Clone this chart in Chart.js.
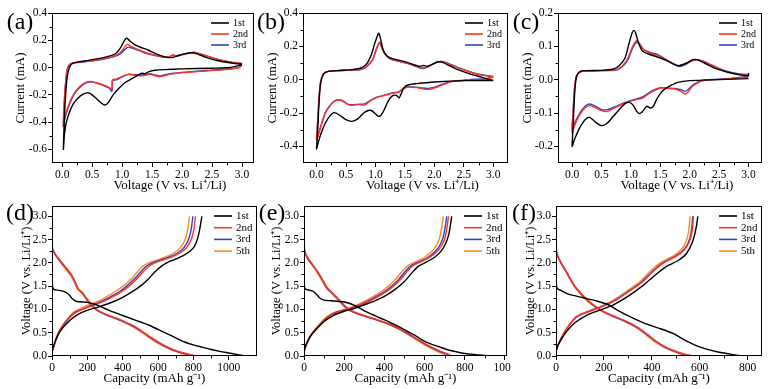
<!DOCTYPE html>
<html>
<head>
<meta charset="utf-8">
<script src="https://cdn.jsdelivr.net/npm/chart.js@4.4.1/dist/chart.umd.min.js"></script>
<style>
  html, body { margin: 0; padding: 0; background: #fff; }
  #fig { position: relative; width: 771px; height: 389px; overflow: hidden; }
  #fig canvas { position: absolute; }
</style>
</head>
<body>
<div id="fig">
  <canvas id="pa"></canvas>
  <canvas id="pb"></canvas>
  <canvas id="pc"></canvas>
  <canvas id="pd"></canvas>
  <canvas id="pe"></canvas>
  <canvas id="pf"></canvas>
</div>
<script>
// ---- axis ticks ----
const CV_X_TICKS = [0, 0.5, 1, 1.5, 2, 2.5, 3];
const A_Y_TICKS = [-0.6, -0.4, -0.2, 0, 0.2, 0.4];
const B_Y_TICKS = [-0.4, -0.2, 0, 0.2, 0.4];
const C_Y_TICKS = [-0.2, -0.1, 0, 0.1, 0.2];
const GCD_Y_TICKS = [0, 0.5, 1, 1.5, 2, 2.5, 3];
const D_X_TICKS = [0, 200, 400, 600, 800, 1000];
const E_X_TICKS = [0, 200, 400, 600, 800, 1000];
const F_X_TICKS = [0, 200, 400, 600, 800];

const CV_LABELS = ['1st', '2nd', '3rd'];
const GCD_LABELS = ['1st', '2nd', '3rd', '5th'];

// ---- (a) CV curves: [voltage, current] ----
const a1st = [[3.0,0.02],[2.8,0.0],[2.5,-0.005],[2.0,-0.01],[1.7,-0.015],[1.55,-0.02],[1.45,-0.03],[1.38,-0.045],[1.33,-0.042],[1.25,-0.06],[1.15,-0.085],[1.05,-0.11],[0.95,-0.15],[0.85,-0.2],[0.78,-0.25],[0.72,-0.275],[0.65,-0.26],[0.55,-0.22],[0.45,-0.187],[0.35,-0.195],[0.25,-0.23],[0.18,-0.27],[0.12,-0.33],[0.07,-0.4],[0.04,-0.48],[0.02,-0.6],[0.03,-0.45],[0.05,-0.25],[0.08,-0.08],[0.12,0.0],[0.17,0.03],[0.25,0.04],[0.4,0.05],[0.6,0.065],[0.8,0.085],[0.9,0.105],[0.98,0.15],[1.04,0.2],[1.08,0.215],[1.13,0.195],[1.2,0.17],[1.3,0.15],[1.45,0.125],[1.6,0.095],[1.75,0.075],[1.85,0.075],[1.95,0.09],[2.05,0.1],[2.15,0.108],[2.25,0.1],[2.4,0.075],[2.6,0.05],[2.8,0.035],[3.0,0.025]];
const a2nd = [[3.0,0.02],[2.95,0.0],[2.7,-0.015],[2.4,-0.025],[2.1,-0.035],[1.85,-0.045],[1.7,-0.06],[1.62,-0.068],[1.55,-0.06],[1.47,-0.05],[1.4,-0.055],[1.3,-0.06],[1.2,-0.055],[1.1,-0.05],[1.0,-0.065],[0.9,-0.085],[0.84,-0.09],[0.83,-0.16],[0.78,-0.145],[0.7,-0.13],[0.6,-0.115],[0.5,-0.103],[0.42,-0.105],[0.35,-0.12],[0.27,-0.15],[0.2,-0.19],[0.13,-0.25],[0.08,-0.31],[0.04,-0.37],[0.02,-0.42],[0.03,-0.3],[0.05,-0.15],[0.08,-0.02],[0.12,0.02],[0.18,0.033],[0.3,0.04],[0.5,0.05],[0.7,0.065],[0.85,0.08],[0.97,0.11],[1.05,0.155],[1.09,0.17],[1.15,0.155],[1.25,0.135],[1.4,0.11],[1.55,0.09],[1.7,0.078],[1.8,0.082],[1.85,0.095],[1.9,0.085],[2.0,0.095],[2.1,0.105],[2.2,0.113],[2.3,0.1],[2.45,0.08],[2.6,0.06],[2.75,0.045],[2.9,0.035],[3.0,0.03]];
const a3rd = [[3.0,0.03],[2.95,0.0],[2.7,-0.013],[2.4,-0.022],[2.1,-0.032],[1.85,-0.042],[1.7,-0.055],[1.62,-0.062],[1.55,-0.055],[1.47,-0.045],[1.4,-0.05],[1.3,-0.055],[1.2,-0.052],[1.1,-0.05],[1.0,-0.068],[0.9,-0.09],[0.84,-0.095],[0.83,-0.175],[0.78,-0.15],[0.7,-0.135],[0.6,-0.118],[0.5,-0.105],[0.42,-0.108],[0.35,-0.125],[0.27,-0.155],[0.2,-0.195],[0.13,-0.26],[0.08,-0.32],[0.04,-0.38],[0.02,-0.43],[0.03,-0.3],[0.05,-0.15],[0.08,-0.02],[0.12,0.02],[0.18,0.032],[0.3,0.04],[0.5,0.05],[0.7,0.063],[0.85,0.078],[0.97,0.1],[1.05,0.135],[1.1,0.15],[1.15,0.145],[1.25,0.13],[1.4,0.105],[1.55,0.088],[1.7,0.075],[1.8,0.08],[1.85,0.09],[1.9,0.082],[2.0,0.095],[2.1,0.105],[2.2,0.11],[2.3,0.1],[2.45,0.08],[2.6,0.06],[2.75,0.045],[2.9,0.03],[3.0,0.03]];

// ---- (b) CV curves ----
const b1st = [[3.0,-0.005],[2.5,-0.006],[2.0,-0.014],[1.7,-0.024],[1.55,-0.032],[1.48,-0.05],[1.43,-0.09],[1.4,-0.11],[1.36,-0.095],[1.3,-0.095],[1.25,-0.11],[1.2,-0.14],[1.15,-0.18],[1.1,-0.21],[1.05,-0.22],[1.0,-0.205],[0.93,-0.185],[0.88,-0.185],[0.8,-0.2],[0.7,-0.235],[0.6,-0.25],[0.5,-0.24],[0.4,-0.215],[0.3,-0.198],[0.22,-0.22],[0.15,-0.26],[0.1,-0.3],[0.05,-0.35],[0.02,-0.39],[0.0,-0.415],[0.02,-0.3],[0.04,-0.15],[0.07,-0.02],[0.12,0.035],[0.2,0.05],[0.4,0.055],[0.6,0.06],[0.75,0.07],[0.85,0.095],[0.93,0.15],[0.99,0.22],[1.04,0.27],[1.06,0.278],[1.09,0.24],[1.13,0.18],[1.2,0.14],[1.3,0.125],[1.5,0.108],[1.65,0.09],[1.75,0.08],[1.82,0.085],[1.88,0.08],[1.95,0.09],[2.05,0.106],[2.12,0.105],[2.25,0.085],[2.4,0.06],[2.6,0.035],[2.8,0.015],[3.0,-0.005]];
const b2nd = [[3.0,0.015],[2.9,0.005],[2.6,-0.002],[2.3,-0.012],[2.15,-0.03],[2.0,-0.05],[1.9,-0.058],[1.8,-0.055],[1.7,-0.048],[1.55,-0.045],[1.45,-0.06],[1.4,-0.075],[1.3,-0.08],[1.15,-0.095],[1.0,-0.11],[0.9,-0.13],[0.82,-0.152],[0.7,-0.15],[0.55,-0.152],[0.45,-0.13],[0.38,-0.122],[0.3,-0.13],[0.22,-0.16],[0.15,-0.2],[0.1,-0.25],[0.05,-0.31],[0.02,-0.345],[0.0,-0.36],[0.02,-0.25],[0.04,-0.12],[0.07,-0.01],[0.12,0.035],[0.2,0.05],[0.4,0.055],[0.6,0.058],[0.75,0.062],[0.85,0.08],[0.95,0.12],[1.02,0.19],[1.07,0.225],[1.1,0.2],[1.15,0.16],[1.25,0.125],[1.4,0.112],[1.55,0.098],[1.7,0.08],[1.8,0.07],[1.9,0.08],[2.0,0.098],[2.08,0.108],[2.15,0.105],[2.3,0.085],[2.5,0.058],[2.7,0.035],[2.9,0.022],[3.0,0.018]];
const b3rd = [[3.0,0.02],[2.9,0.008],[2.6,0.0],[2.3,-0.01],[2.15,-0.025],[2.0,-0.045],[1.9,-0.052],[1.8,-0.05],[1.7,-0.045],[1.55,-0.043],[1.45,-0.058],[1.4,-0.073],[1.3,-0.078],[1.15,-0.093],[1.0,-0.108],[0.9,-0.128],[0.82,-0.145],[0.7,-0.148],[0.55,-0.15],[0.45,-0.128],[0.38,-0.12],[0.3,-0.128],[0.22,-0.158],[0.15,-0.198],[0.1,-0.248],[0.05,-0.305],[0.02,-0.34],[0.0,-0.355],[0.02,-0.25],[0.04,-0.12],[0.07,-0.01],[0.12,0.035],[0.2,0.05],[0.4,0.055],[0.6,0.057],[0.75,0.06],[0.85,0.078],[0.95,0.118],[1.02,0.185],[1.07,0.22],[1.1,0.2],[1.15,0.16],[1.25,0.125],[1.4,0.11],[1.55,0.096],[1.7,0.078],[1.8,0.066],[1.9,0.078],[2.0,0.098],[2.1,0.11],[2.17,0.106],[2.3,0.088],[2.5,0.06],[2.7,0.037],[2.9,0.024],[3.0,0.02]];

// ---- (c) CV curves ----
const c1st = [[3.0,0.003],[2.5,0.0],[2.0,-0.003],[1.8,-0.008],[1.65,-0.02],[1.55,-0.032],[1.45,-0.055],[1.38,-0.08],[1.33,-0.085],[1.27,-0.08],[1.2,-0.095],[1.15,-0.102],[1.1,-0.095],[1.03,-0.075],[0.97,-0.068],[0.9,-0.072],[0.8,-0.09],[0.7,-0.11],[0.6,-0.13],[0.5,-0.138],[0.4,-0.128],[0.3,-0.113],[0.22,-0.12],[0.15,-0.138],[0.1,-0.155],[0.05,-0.175],[0.02,-0.19],[0.0,-0.2],[0.02,-0.13],[0.04,-0.05],[0.07,0.005],[0.12,0.022],[0.2,0.027],[0.5,0.028],[0.7,0.032],[0.8,0.042],[0.9,0.065],[0.97,0.11],[1.02,0.14],[1.05,0.148],[1.08,0.14],[1.13,0.11],[1.2,0.085],[1.3,0.077],[1.45,0.068],[1.6,0.058],[1.75,0.045],[1.82,0.042],[1.95,0.05],[2.05,0.06],[2.12,0.06],[2.25,0.05],[2.45,0.033],[2.7,0.02],[2.9,0.013],[3.0,0.012],[3.0,0.02]];
const c2nd = [[3.0,0.008],[2.7,0.003],[2.4,0.0],[2.2,-0.004],[2.05,-0.02],[1.97,-0.038],[1.92,-0.043],[1.85,-0.035],[1.75,-0.028],[1.6,-0.026],[1.5,-0.025],[1.4,-0.033],[1.3,-0.043],[1.2,-0.055],[1.05,-0.062],[0.9,-0.07],[0.75,-0.082],[0.6,-0.095],[0.5,-0.093],[0.4,-0.084],[0.3,-0.078],[0.22,-0.085],[0.15,-0.1],[0.1,-0.115],[0.05,-0.135],[0.02,-0.15],[0.0,-0.16],[0.02,-0.09],[0.04,-0.03],[0.07,0.01],[0.12,0.022],[0.2,0.026],[0.5,0.027],[0.75,0.03],[0.85,0.04],[0.95,0.065],[1.03,0.1],[1.1,0.118],[1.15,0.108],[1.22,0.09],[1.35,0.078],[1.5,0.07],[1.65,0.055],[1.8,0.042],[1.9,0.045],[2.0,0.055],[2.1,0.06],[2.2,0.056],[2.35,0.045],[2.6,0.025],[2.85,0.016],[3.0,0.013]];
const c3rd = [[3.0,0.01],[2.7,0.004],[2.4,0.001],[2.2,-0.003],[2.05,-0.016],[1.97,-0.03],[1.92,-0.035],[1.85,-0.03],[1.75,-0.026],[1.6,-0.025],[1.5,-0.024],[1.4,-0.03],[1.3,-0.04],[1.2,-0.052],[1.05,-0.06],[0.9,-0.068],[0.75,-0.08],[0.6,-0.09],[0.5,-0.09],[0.4,-0.08],[0.3,-0.073],[0.22,-0.08],[0.15,-0.095],[0.1,-0.11],[0.05,-0.127],[0.02,-0.14],[0.0,-0.148],[0.02,-0.085],[0.04,-0.03],[0.07,0.01],[0.12,0.022],[0.2,0.026],[0.5,0.027],[0.75,0.029],[0.85,0.038],[0.95,0.06],[1.03,0.095],[1.1,0.113],[1.15,0.105],[1.22,0.09],[1.35,0.08],[1.45,0.076],[1.6,0.06],[1.8,0.04],[1.9,0.043],[2.0,0.053],[2.12,0.06],[2.22,0.056],[2.35,0.046],[2.6,0.027],[2.85,0.017],[3.0,0.015]];

// ---- (d) discharge / charge: [capacity, voltage] ----
const d1stDis = [[0,1.75],[3,1.5],[10,1.43],[40,1.41],[70,1.38],[95,1.32],[115,1.23],[140,1.17],[200,1.15],[250,1.1],[300,1.02],[350,0.94],[400,0.87],[450,0.8],[500,0.73],[550,0.66],[600,0.57],[650,0.48],[700,0.39],[750,0.3],[800,0.24],[850,0.19],[900,0.14],[950,0.1],[1000,0.065],[1050,0.03],[1090,0.0]];
const d2ndDis = [[0,2.55],[3,2.32],[20,2.18],[40,2.08],[72,1.93],[109,1.75],[135,1.56],[150,1.44],[170,1.37],[190,1.27],[213,1.15],[240,1.04],[270,0.96],[310,0.89],[360,0.82],[410,0.74],[460,0.65],[510,0.53],[560,0.4],[610,0.28],[650,0.2],[690,0.13],[730,0.08],[770,0.04],[800,0.015],[818,0.0]];
const d3rdDis = [[0,2.3],[3,2.28],[20,2.17],[40,2.07],[72,1.92],[109,1.74],[135,1.55],[150,1.43],[170,1.36],[190,1.26],[213,1.14],[240,1.03],[270,0.95],[310,0.88],[360,0.81],[410,0.73],[460,0.64],[510,0.52],[560,0.39],[610,0.27],[650,0.19],[690,0.12],[730,0.07],[770,0.035],[795,0.012],[808,0.0]];
const d5thDis = [[0,2.75],[3,2.3],[20,2.16],[40,2.05],[70,1.9],[105,1.73],[130,1.55],[145,1.43],[165,1.36],[185,1.26],[208,1.14],[235,1.03],[265,0.95],[305,0.88],[355,0.81],[405,0.73],[455,0.63],[505,0.51],[555,0.38],[600,0.27],[640,0.19],[680,0.12],[720,0.07],[755,0.03],[780,0.008],[790,0.0]];
const d1stChg = [[0,0.1],[8,0.2],[25,0.38],[50,0.55],[100,0.76],[150,0.9],[200,0.98],[260,1.05],[300,1.1],[350,1.17],[400,1.26],[450,1.37],[500,1.5],[540,1.63],[580,1.8],[620,1.93],[660,2.02],[700,2.08],[740,2.15],[780,2.25],[805,2.35],[822,2.5],[835,2.7],[848,3.0]];
const d2ndChg = [[0,0.08],[6,0.15],[23,0.35],[48,0.56],[88,0.77],[128,0.92],[165,0.99],[198,1.04],[235,1.09],[277,1.15],[318,1.22],[358,1.3],[398,1.39],[436,1.5],[474,1.63],[510,1.78],[540,1.9],[568,1.97],[605,2.03],[643,2.08],[685,2.14],[720,2.2],[750,2.28],[775,2.4],[792,2.55],[804,2.75],[812,3.0]];
const d3rdChg = [[0,0.08],[6,0.15],[22,0.35],[46,0.56],[85,0.77],[124,0.92],[160,0.99],[190,1.04],[225,1.09],[265,1.15],[305,1.22],[345,1.3],[385,1.39],[422,1.5],[460,1.63],[496,1.78],[525,1.9],[553,1.97],[590,2.03],[628,2.08],[670,2.14],[705,2.2],[735,2.28],[760,2.4],[777,2.55],[789,2.75],[797,3.0]];
const d5thChg = [[0,0.08],[6,0.15],[20,0.35],[43,0.56],[81,0.77],[119,0.93],[150,1.0],[175,1.05],[210,1.1],[250,1.16],[290,1.23],[326,1.31],[365,1.4],[401,1.5],[440,1.62],[476,1.77],[505,1.9],[533,1.97],[570,2.03],[608,2.08],[650,2.14],[684,2.2],[715,2.28],[740,2.4],[758,2.55],[770,2.75],[778,3.0]];

// ---- (e) ----
const e1stDis = [[0,1.62],[3,1.48],[10,1.43],[30,1.41],[45,1.39],[63,1.32],[80,1.24],[100,1.2],[150,1.18],[200,1.16],[244,1.1],[280,1.02],[309,0.95],[345,0.88],[381,0.81],[420,0.74],[454,0.67],[490,0.59],[526,0.5],[560,0.42],[589,0.34],[630,0.26],[672,0.2],[710,0.14],[754,0.094],[790,0.06],[828,0.04],[870,0.02],[915,0.008],[955,0.0]];
const e2ndDis = [[0,2.4],[4,2.25],[20,2.1],[45,1.95],[70,1.8],[95,1.62],[115,1.47],[140,1.36],[170,1.23],[200,1.09],[225,1.0],[260,0.93],[300,0.87],[350,0.8],[400,0.73],[450,0.64],[500,0.53],[550,0.4],[600,0.27],[640,0.18],[680,0.1],[710,0.05],[730,0.015],[738,0.0]];
const e3rdDis = [[0,2.3],[4,2.22],[20,2.08],[45,1.94],[70,1.79],[95,1.61],[115,1.46],[140,1.35],[170,1.22],[200,1.08],[225,0.99],[260,0.92],[300,0.86],[350,0.79],[400,0.72],[450,0.63],[500,0.52],[550,0.39],[600,0.26],[640,0.17],[680,0.09],[705,0.045],[722,0.012],[730,0.0]];
const e5thDis = [[0,2.75],[3,2.3],[18,2.08],[42,1.94],[66,1.79],[90,1.61],[110,1.46],[135,1.35],[165,1.22],[195,1.08],[220,0.99],[255,0.92],[295,0.86],[345,0.79],[395,0.72],[445,0.63],[495,0.52],[545,0.39],[592,0.26],[630,0.17],[668,0.09],[692,0.045],[708,0.012],[716,0.0]];
const e1stChg = [[0,0.1],[8,0.22],[28,0.4],[50,0.52],[100,0.74],[150,0.88],[200,0.96],[250,1.02],[300,1.1],[350,1.18],[400,1.28],[450,1.42],[500,1.6],[540,1.8],[570,1.93],[610,2.02],[650,2.12],[680,2.24],[703,2.4],[720,2.6],[730,2.85],[735,3.0]];
const e2ndChg = [[0,0.08],[8,0.2],[27,0.38],[48,0.52],[86,0.7],[128,0.86],[172,0.95],[216,1.0],[270,1.07],[323,1.17],[375,1.29],[426,1.43],[476,1.62],[516,1.83],[546,1.95],[587,2.03],[627,2.12],[657,2.22],[682,2.35],[699,2.5],[711,2.75],[719,3.0]];
const e3rdChg = [[0,0.08],[8,0.2],[26,0.38],[47,0.52],[84,0.7],[125,0.86],[168,0.95],[210,1.0],[262,1.07],[314,1.17],[365,1.29],[416,1.43],[466,1.62],[506,1.83],[536,1.95],[577,2.03],[617,2.12],[647,2.22],[672,2.35],[689,2.5],[702,2.75],[710,3.0]];
const e5thChg = [[0,0.08],[8,0.2],[25,0.38],[45,0.52],[80,0.7],[120,0.86],[160,0.95],[200,1.0],[250,1.07],[300,1.17],[350,1.29],[400,1.43],[450,1.62],[490,1.83],[520,1.95],[560,2.03],[600,2.12],[630,2.22],[655,2.35],[672,2.5],[685,2.75],[693,3.0]];

// ---- (f) ----
const f1stDis = [[0,1.7],[3,1.48],[10,1.43],[20,1.41],[45,1.34],[72,1.3],[114,1.25],[170,1.18],[219,1.1],[254,0.99],[302,0.86],[365,0.71],[428,0.6],[490,0.48],[546,0.32],[602,0.19],[672,0.09],[741,0.03],[785,0.0]];
const f2ndDis = [[0,2.35],[4,2.2],[17,2.05],[30,1.93],[45,1.8],[60,1.66],[79,1.5],[95,1.4],[114,1.29],[135,1.19],[156,1.1],[198,0.96],[240,0.86],[295,0.74],[340,0.62],[380,0.47],[420,0.31],[455,0.2],[490,0.12],[520,0.065],[550,0.025],[575,0.0]];
const f3rdDis = [[0,2.3],[4,2.18],[17,2.04],[30,1.92],[45,1.79],[60,1.65],[79,1.49],[95,1.39],[114,1.28],[135,1.18],[156,1.09],[198,0.95],[240,0.85],[295,0.73],[340,0.61],[380,0.46],[420,0.3],[455,0.19],[490,0.11],[518,0.06],[548,0.02],[570,0.0]];
const f5thDis = [[0,2.75],[3,2.25],[15,2.04],[28,1.92],[43,1.79],[58,1.65],[76,1.49],[92,1.39],[110,1.28],[130,1.18],[152,1.09],[193,0.95],[235,0.85],[290,0.73],[335,0.61],[375,0.46],[414,0.3],[449,0.19],[483,0.11],[512,0.06],[542,0.02],[563,0.0]];
const f1stChg = [[0,0.1],[10,0.25],[40,0.5],[80,0.72],[130,0.88],[180,0.98],[240,1.1],[300,1.28],[360,1.5],[410,1.72],[460,1.92],[510,2.05],[545,2.2],[570,2.45],[585,2.75],[592,3.0]];
const f2ndChg = [[0,0.1],[10,0.25],[32,0.48],[62,0.7],[90,0.85],[135,0.95],[193,1.06],[250,1.2],[306,1.39],[363,1.6],[406,1.82],[449,2.0],[504,2.15],[534,2.27],[554,2.42],[567,2.65],[574,3.0]];
const f3rdChg = [[0,0.1],[10,0.25],[32,0.48],[61,0.7],[89,0.85],[133,0.95],[190,1.06],[247,1.2],[303,1.39],[360,1.6],[403,1.82],[446,2.0],[501,2.15],[531,2.27],[551,2.42],[564,2.65],[571,3.0]];
const f5thChg = [[0,0.1],[10,0.25],[31,0.48],[59,0.7],[86,0.85],[128,0.95],[184,1.06],[240,1.2],[295,1.39],[351,1.6],[393,1.82],[435,2.0],[490,2.15],[520,2.27],[540,2.42],[553,2.65],[560,3.0]];

// ---- styling ----
const FONT = "'Liberation Serif', 'Times New Roman', serif";
const COLORS = { c1: '#000000', c2: '#ff3322', c3: '#2f3fd0', c5: '#ff8c1a' };
const CV_COLORS = [COLORS.c1, COLORS.c2, COLORS.c3];
const GCD_COLORS = [COLORS.c1, COLORS.c2, COLORS.c3, COLORS.c5];

// helper: list of midpoints between major ticks (minor tick marks)
function midpoints(ticks) {
  const out = [];
  for (let i = 0; i < ticks.length - 1; i++) out.push((ticks[i] + ticks[i + 1]) / 2);
  return out;
}

function series(data, color) {
  return {
    data: data.map(p => ({ x: p[0], y: p[1] })),
    borderColor: color,
    backgroundColor: color,
    borderWidth: 1.4,
    pointRadius: 0,
    showLine: true,
    tension: 0.25,
    fill: false,
  };
}

// frame, minor ticks, panel letter, legend, x title
const panelDeco = {
  id: 'panelDeco',
  afterDraw(chart, args, o) {
    const { ctx, chartArea: { left, top, right, bottom } } = chart;
    const xs = chart.scales.x, ys = chart.scales.y;
    ctx.save();
    ctx.strokeStyle = '#000';
    ctx.lineWidth = 1;
    ctx.strokeRect(left + 0.5, top + 0.5, right - left - 1, bottom - top - 1);

    ctx.beginPath();
    o.xMinor.forEach(v => {
      const px = Math.round(xs.getPixelForValue(v)) + 0.5;
      ctx.moveTo(px, bottom); ctx.lineTo(px, bottom + 2.5);
    });
    o.yMinor.forEach(v => {
      const py = Math.round(ys.getPixelForValue(v)) + 0.5;
      ctx.moveTo(left, py); ctx.lineTo(left - 2.5, py);
    });
    ctx.stroke();

    ctx.fillStyle = '#000';
    ctx.font = `24px ${FONT}`;
    ctx.textAlign = 'center';
    ctx.textBaseline = 'middle';
    ctx.fillText(o.letter, left - 32, top + o.letterDy);

    ctx.font = `13px ${FONT}`;
    ctx.fillText(o.xTitle, (left + right) / 2 + o.xTitleDx, o.xTitleY);

    ctx.font = `${o.legendSize}px ${FONT}`;
    ctx.textAlign = 'left';
    ctx.lineWidth = 1.6;
    o.legend.forEach((name, i) => {
      const y = top + 10 + i * o.legendGap;
      ctx.strokeStyle = o.legendColors[i];
      ctx.beginPath();
      ctx.moveTo(right - 43, y); ctx.lineTo(right - 25, y);
      ctx.stroke();
      ctx.fillText(name, right - 21, y);
    });
    ctx.restore();
  }
};

function buildPanel(id, box, spec) {
  const cv = document.getElementById(id);
  cv.width = box.w; cv.height = box.h;
  cv.style.left = box.left + 'px';
  cv.style.top = box.top + 'px';
  const yAxisW = box.l - box.left;
  const xAxisH = box.top + box.h - box.b;
  const tickFont = { family: FONT, size: 11.5 };

  return new Chart(cv, {
    type: 'scatter',
    data: { datasets: spec.series.map((d, i) => series(d, spec.colors[i])) },
    options: {
      responsive: false,
      animation: false,
      devicePixelRatio: 1,
      layout: { padding: { left: 0, top: box.t - box.top, right: box.left + box.w - box.r, bottom: 0 } },
      plugins: {
        legend: { display: false },
        tooltip: { enabled: false },
        panelDeco: {
          letter: spec.letter,
          letterDy: spec.letterDy,
          legend: spec.legend,
          legendColors: spec.legendColors,
          legendSize: spec.legendSize,
          legendGap: spec.legendGap,
          xTitle: spec.xTitle,
          xTitleDx: spec.xTitleDx,
          xTitleY: box.xty - box.top,
          xMinor: midpoints(spec.xTicks),
          yMinor: midpoints(spec.yTicks),
        }
      },
      scales: {
        x: {
          type: 'linear',
          min: spec.xRange[0], max: spec.xRange[1],
          afterBuildTicks: s => { s.ticks = spec.xTicks.map(v => ({ value: v })); },
          afterFit: s => { s.height = xAxisH; s.paddingLeft = 0; s.paddingRight = 0; },
          ticks: { autoSkip: false, maxRotation: 0, color: '#000', font: tickFont, padding: 1, callback: spec.xFmt },
          grid: { drawOnChartArea: false, drawTicks: true, tickLength: 4, tickColor: '#000', color: '#000' },
          border: { display: false },
          title: { display: false },
        },
        y: {
          type: 'linear',
          min: spec.yRange[0], max: spec.yRange[1],
          afterBuildTicks: s => { s.ticks = spec.yTicks.map(v => ({ value: v })); },
          afterFit: s => { s.width = yAxisW; s.paddingTop = 0; s.paddingBottom = 0; },
          ticks: { autoSkip: false, color: '#000', font: tickFont, padding: 1, callback: v => v.toFixed(1) },
          grid: { drawOnChartArea: false, drawTicks: true, tickLength: 4, tickColor: '#000', color: '#000' },
          border: { display: false },
          title: {
            display: true, text: spec.yTitle, color: '#000',
            font: { family: FONT, size: spec.yTitleSize },
            padding: { top: box.ytx - box.left - spec.yTitleSize * 0.6, bottom: 0 },
          },
        }
      }
    },
    plugins: [panelDeco]
  });
}

const CV_X_TITLE = 'Voltage (V vs. Li\u207A/Li)';
const GCD_X_TITLE = 'Capacity (mAh g\u207B\u00B9)';
const CV_Y_TITLE = 'Current (mA)';
const GCD_Y_TITLE = 'Voltage (V vs. Li/Li\u207A)';

const cvBase = {
  xTicks: CV_X_TICKS, xFmt: v => v.toFixed(1), colors: CV_COLORS,
  legend: CV_LABELS, legendColors: CV_COLORS, legendSize: 10, legendGap: 11,
  xTitle: CV_X_TITLE, xTitleDx: 17, yTitle: CV_Y_TITLE, yTitleSize: 13, letterDy: 10,
};
const gcdBase = {
  yTicks: GCD_Y_TICKS, yRange: [0, 3.22], xFmt: v => String(v), colors: GCD_COLORS,
  legend: GCD_LABELS, legendColors: GCD_COLORS, legendSize: 11, legendGap: 11.7,
  xTitle: GCD_X_TITLE, xTitleDx: 0, yTitle: GCD_Y_TITLE, yTitleSize: 12.5, letterDy: 8,
};
const gcdColors = [COLORS.c1, COLORS.c1, COLORS.c2, COLORS.c2, COLORS.c3, COLORS.c3, COLORS.c5, COLORS.c5];

buildPanel('pa', { left: 0, top: 0, w: 258, h: 195, l: 52, t: 13, r: 254, b: 163, xty: 186, ytx: 21 },
  { ...cvBase, letter: '(a)', xRange: [-0.17, 3.2], yRange: [-0.7, 0.4], yTicks: A_Y_TICKS, series: [a1st, a2nd, a3rd] });
buildPanel('pb', { left: 256, top: 0, w: 256, h: 195, l: 303, t: 13, r: 508, b: 163, xty: 186, ytx: 273 },
  { ...cvBase, letter: '(b)', xRange: [-0.23, 3.25], yRange: [-0.5, 0.4], yTicks: B_Y_TICKS, series: [b1st, b2nd, b3rd] });
buildPanel('pc', { left: 512, top: 0, w: 259, h: 195, l: 558, t: 13, r: 762, b: 163, xty: 186, ytx: 528 },
  { ...cvBase, letter: '(c)', xRange: [-0.24, 3.23], yRange: [-0.25, 0.2], yTicks: C_Y_TICKS, series: [c1st, c2nd, c3rd] });

buildPanel('pd', { left: 0, top: 195, w: 258, h: 194, l: 52, t: 206, r: 257, b: 356, xty: 379, ytx: 27 },
  { ...gcdBase, letter: '(d)', xRange: [0, 1160], xTicks: D_X_TICKS, colors: gcdColors,
    series: [d1stDis, d1stChg, d2ndDis, d2ndChg, d3rdDis, d3rdChg, d5thDis, d5thChg] });
buildPanel('pe', { left: 258, top: 195, w: 253, h: 194, l: 304, t: 206, r: 507, b: 356, xty: 379, ytx: 277 },
  { ...gcdBase, letter: '(e)', xRange: [0, 1010], xTicks: E_X_TICKS, colors: gcdColors,
    series: [e1stDis, e1stChg, e2ndDis, e2ndChg, e3rdDis, e3rdChg, e5thDis, e5thChg] });
buildPanel('pf', { left: 513, top: 195, w: 258, h: 194, l: 556, t: 206, r: 762, b: 356, xty: 379, ytx: 531 },
  { ...gcdBase, letter: '(f)', xRange: [0, 860], xTicks: F_X_TICKS, colors: gcdColors,
    series: [f1stDis, f1stChg, f2ndDis, f2ndChg, f3rdDis, f3rdChg, f5thDis, f5thChg] });
</script>
</body>
</html>
